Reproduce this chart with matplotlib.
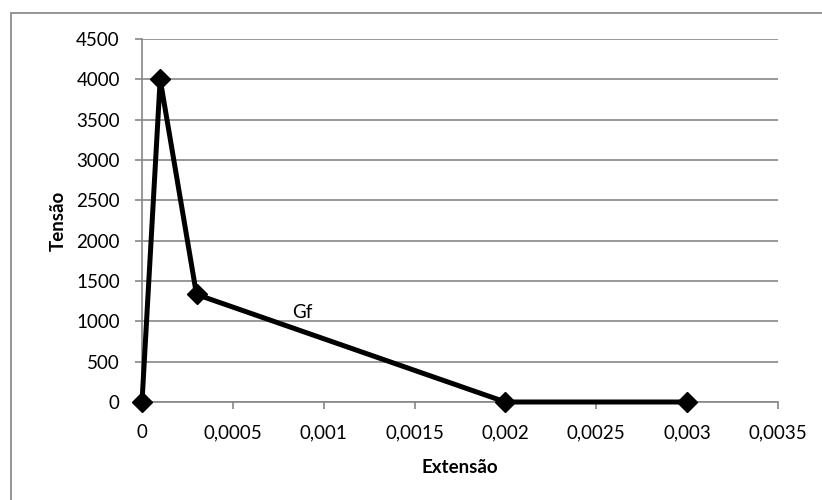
import matplotlib
matplotlib.use("Agg")
import matplotlib.pyplot as plt
from matplotlib.patches import Rectangle

# Stress-strain softening law
extensao = [0.0, 0.0001, 0.0003, 0.002, 0.003]
tensao = [0.0, 4000.0, 1333.33, 0.0, 0.0]

x_ticks = [0, 0.0005, 0.001, 0.0015, 0.002, 0.0025, 0.003, 0.0035]
x_tick_labels = ["0", "0,0005", "0,001", "0,0015", "0,002", "0,0025", "0,003", "0,0035"]
y_ticks = [0, 500, 1000, 1500, 2000, 2500, 3000, 3500, 4000, 4500]
y_tick_labels = [str(v) for v in y_ticks]

label_text = "Gf"
label_pos = (0.00088, 1115)

plt.rcParams["font.family"] = ["Lato", "DejaVu Sans"]

W, H = 822, 500
fig = plt.figure(figsize=(W / 100, H / 100), dpi=100)
ax = fig.add_axes([142 / W, 1 - 402 / H, (778 - 142) / W, (402 - 39) / H])

grey = "#868686"

# outer chart border
fig.patches.append(Rectangle((11 / W, -0.1), 1.1, 1 - 13 / H + 0.1,
                             transform=fig.transFigure, fill=False,
                             edgecolor="#8c8c8c", linewidth=1.3))

ax.plot(extensao, tensao, color="black", linewidth=3.6,
        marker="D", markersize=10.5, markerfacecolor="black",
        markeredgecolor="black", clip_on=False, zorder=5)

ax.text(label_pos[0], label_pos[1], label_text, fontsize=13.5,
        ha="center", va="center", color="black")

ax.set_xlim(0, 0.0035)
ax.set_ylim(0, 4500)
ax.set_xticks(x_ticks)
ax.set_xticklabels(x_tick_labels)
ax.set_yticks(y_ticks)
ax.set_yticklabels(y_tick_labels)

ax.yaxis.grid(True, color=grey, linewidth=1.2)
ax.set_axisbelow(True)
for s in ("top", "right"):
    ax.spines[s].set_visible(False)
for s in ("left", "bottom"):
    ax.spines[s].set_color(grey)
    ax.spines[s].set_linewidth(1.2)

ax.tick_params(axis="both", colors=grey, labelcolor="black", labelsize=13.5,
               length=5, width=1.2, direction="out")
ax.tick_params(axis="y", pad=11)
ax.tick_params(axis="x", pad=11)

ax.set_xlabel("Extensão", fontsize=13.5, fontweight="bold", labelpad=13)
ax.set_ylabel("Tensão", fontsize=13.5, fontweight="bold", labelpad=7)

fig.savefig("out.png", dpi=100, facecolor="white")
